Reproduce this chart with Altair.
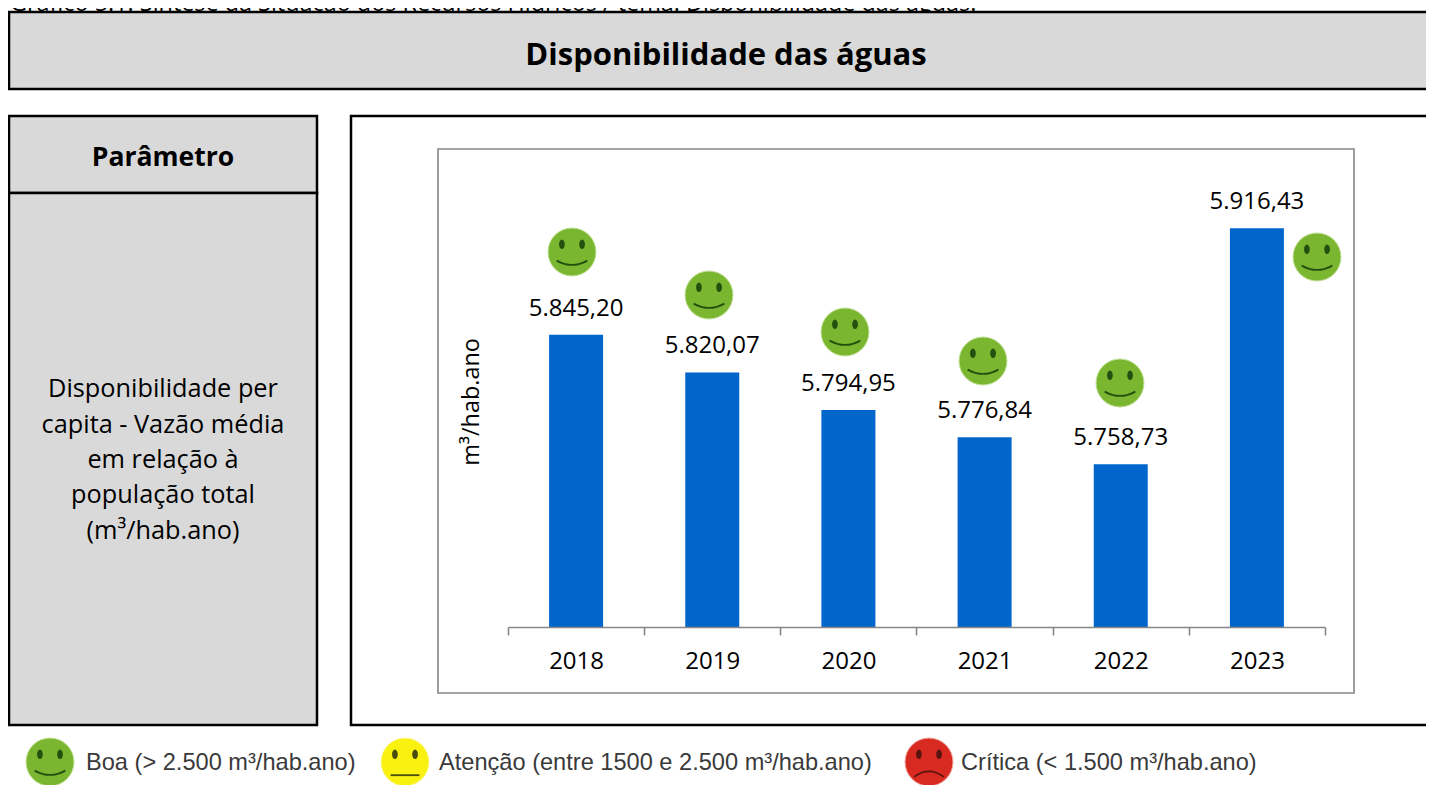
import altair as alt
import pandas as pd

OX, OY = 8, 8  # page margin

# ---- chart values
years = ["2018", "2019", "2020", "2021", "2022", "2023"]
values = [5845.20, 5820.07, 5794.95, 5776.84, 5758.73, 5916.43]
labels = ["5.845,20", "5.820,07", "5.794,95", "5.776,84", "5.758,73", "5.916,43"]
axis_base = 5650

# ---- smiley positions (page pixels)
face_x = [572, 709, 845, 983, 1120, 1317, 50, 405, 929]
face_y = [252, 295, 332, 361, 383, 257, 762, 762, 762]
face_kind = ["boa"] * 7 + ["atencao", "critica"]

# ---- panels (page pixels)
panel_x = [9, 9, 9, 351, 438]
panel_x2 = [1440, 317, 317, 1440, 1354]
panel_y = [12, 116, 193, 116, 149]
panel_y2 = [89, 193, 725, 725, 693]
panel_fill = ["#d9d9d9", "#d9d9d9", "#d9d9d9", "#ffffff", "#ffffff"]
panel_stroke = ["#000000", "#000000", "#000000", "#000000", "#868686"]
panel_sw = [2.5, 2.5, 2.5, 2.5, 1.6]

# ---- free text
caption = "Gráfico 5.1: Síntese da Situação dos Recursos Hídricos / tema: Disponibilidade das águas."
main_title = "Disponibilidade das águas"
param_title = "Parâmetro"
param_lines = ["Disponibilidade per", "capita - Vazão média", "em relação à", "população total", "(m³/hab.ano)"]
param_line_y = [389, 425, 460, 495, 531]
legend_texts = ["Boa (> 2.500 m³/hab.ano)", "Atenção (entre 1500 e 2.500 m³/hab.ano)", "Crítica (< 1.500 m³/hab.ano)"]
legend_x = [86, 439, 961]
legend_y = 763

BODY = "Open Sans"
LEG = "Liberation Sans"

W, H = 1418, 777
pxX = lambda f: alt.X(f, scale=None, axis=None)
pxY = lambda f: alt.Y(f, scale=None, axis=None)

panels = pd.DataFrame({
    "x": [v - OX for v in panel_x], "x2": [v - OX for v in panel_x2],
    "y": [v - OY for v in panel_y], "y2": [v - OY for v in panel_y2],
    "fill": panel_fill, "stroke": panel_stroke, "sw": panel_sw, "o": list(range(5)),
})
panel_layer = alt.Chart(panels).mark_rect().encode(
    x=pxX("x:Q"), x2="x2:Q", y=pxY("y:Q"), y2="y2:Q",
    fill=alt.Fill("fill:N", scale=None),
    stroke=alt.Stroke("stroke:N", scale=None),
    strokeWidth=alt.StrokeWidth("sw:Q", scale=None),
    order="o:Q",
)

def text_layer(rows, **mark):
    df = pd.DataFrame(rows)
    df["x"] -= OX
    df["y"] -= OY
    return alt.Chart(df).mark_text(**mark).encode(x=pxX("x:Q"), y=pxY("y:Q"), text="t:N")

t_caption = text_layer({"x": [10], "y": [11], "t": [caption]}, font=BODY, fontSize=23.4, align="left", baseline="alphabetic", color="#000000")
t_main = text_layer({"x": [726], "y": [56], "t": [main_title]}, font=BODY, fontSize=31, fontWeight="bold", align="center", baseline="middle", color="#000000")
t_param = text_layer({"x": [163], "y": [158], "t": [param_title]}, font=BODY, fontSize=26.5, fontWeight="bold", align="center", baseline="middle", color="#000000")
t_lines = text_layer({"x": [163] * 5, "y": param_line_y, "t": param_lines}, font=BODY, fontSize=25.3, align="center", baseline="middle", color="#000000")
t_ytitle = text_layer({"x": [472], "y": [402], "t": ["m³/hab.ano"]}, font=BODY, fontSize=23.4, angle=270, align="center", baseline="middle", color="#000000")
t_legend = text_layer({"x": legend_x, "y": [legend_y] * 3, "t": legend_texts}, font=LEG, fontSize=23.6, align="left", baseline="middle", color="#3a3a3a")

# ---- bars
df = pd.DataFrame({"year": years, "value": values, "label": labels, "base": [axis_base] * 6})
xs = alt.Scale(domain=years, range=[508 - OX, 1325 - OX], paddingInner=0, paddingOuter=0)
ys = alt.Scale(domain=[5650, 5950], range=[627 - OY, 178 - OY], zero=False, nice=False)
xaxis = alt.Axis(title=None, offset=-(H - (627 - OY)), zindex=1, domainColor="#868686", domainWidth=1.6,
                 tickColor="#868686", tickWidth=1.6, tickSize=8, tickBand="extent",
                 labelFont=BODY, labelFontSize=24, labelColor="#000000", labelPadding=14, labelAngle=0, grid=False)
bars = alt.Chart(df).mark_bar(color="#0066cc", width=54).encode(
    x=alt.X("year:N", scale=xs, axis=xaxis),
    y=alt.Y("value:Q", scale=ys, axis=None),
    y2="base:Q",
)
bar_text = alt.Chart(df).mark_text(font=BODY, fontSize=24, dy=-26, baseline="middle", color="#000000").encode(
    x=alt.X("year:N", scale=xs, axis=xaxis),
    y=alt.Y("value:Q", scale=ys, axis=None),
    text="label:N",
)
bar_group = alt.layer(bars, bar_text)

# ---- smileys
FILL = {"boa": "#7ab62f", "atencao": "#f9f10f", "critica": "#d92a22"}
GLOW = {"boa": "#c3e29a", "atencao": "#fbf8a0", "critica": "#f0aaa2"}
EYES = ("M-0.42,-0.52 A0.12,0.2 0 1 1 -0.42,-0.12 A0.12,0.2 0 1 1 -0.42,-0.52 Z "
        "M0.42,-0.52 A0.12,0.2 0 1 1 0.42,-0.12 A0.12,0.2 0 1 1 0.42,-0.52 Z")
MOUTH = {"boa": "M-0.64,0.36 Q0,0.72 0.64,0.36", "atencao": "M-0.6,0.55 L0.6,0.55", "critica": "M-0.62,0.62 Q0,0.16 0.62,0.62"}
INK = {"boa": "#24500f", "atencao": "#4a4a10", "critica": "#5a1410"}
faces = pd.DataFrame({"x": [v - OX for v in face_x], "y": [v - OY for v in face_y], "k": face_kind})
faces["fill"] = faces.k.map(FILL)
faces["glow"] = faces.k.map(GLOW)
faces["mouth"] = faces.k.map(MOUTH)
faces["ink"] = faces.k.map(INK)
faces["eyes"] = EYES
SIZE = 2304
f_disc = alt.Chart(faces).mark_point(filled=True, shape="circle", size=SIZE, opacity=1, strokeWidth=1).encode(
    x=pxX("x:Q"), y=pxY("y:Q"),
    fill=alt.Fill("fill:N", scale=None), stroke=alt.Stroke("glow:N", scale=None))
f_eyes = alt.Chart(faces).mark_point(filled=True, size=SIZE, opacity=1).encode(
    x=pxX("x:Q"), y=pxY("y:Q"),
    shape=alt.Shape("eyes:N", scale=None), fill=alt.Fill("ink:N", scale=None))
f_mouth = alt.Chart(faces).mark_point(filled=False, size=SIZE, opacity=1, strokeWidth=1.8, fillOpacity=0).encode(
    x=pxX("x:Q"), y=pxY("y:Q"),
    shape=alt.Shape("mouth:N", scale=None), stroke=alt.Stroke("ink:N", scale=None))

deco_bg = alt.layer(t_caption, panel_layer)
deco_fg = alt.layer(t_main, t_param, t_lines, t_ytitle, t_legend, f_disc, f_eyes, f_mouth)

chart = alt.layer(deco_bg, bar_group, deco_fg).resolve_scale(
    x="independent", y="independent"
).properties(
    width=W, height=H, padding=0, autosize=alt.AutoSizeParams(type="none"),
    background="#ffffff",
).configure_view(stroke=None)

chart.save("out.html", embed_options={"renderer": "svg", "actions": False})
